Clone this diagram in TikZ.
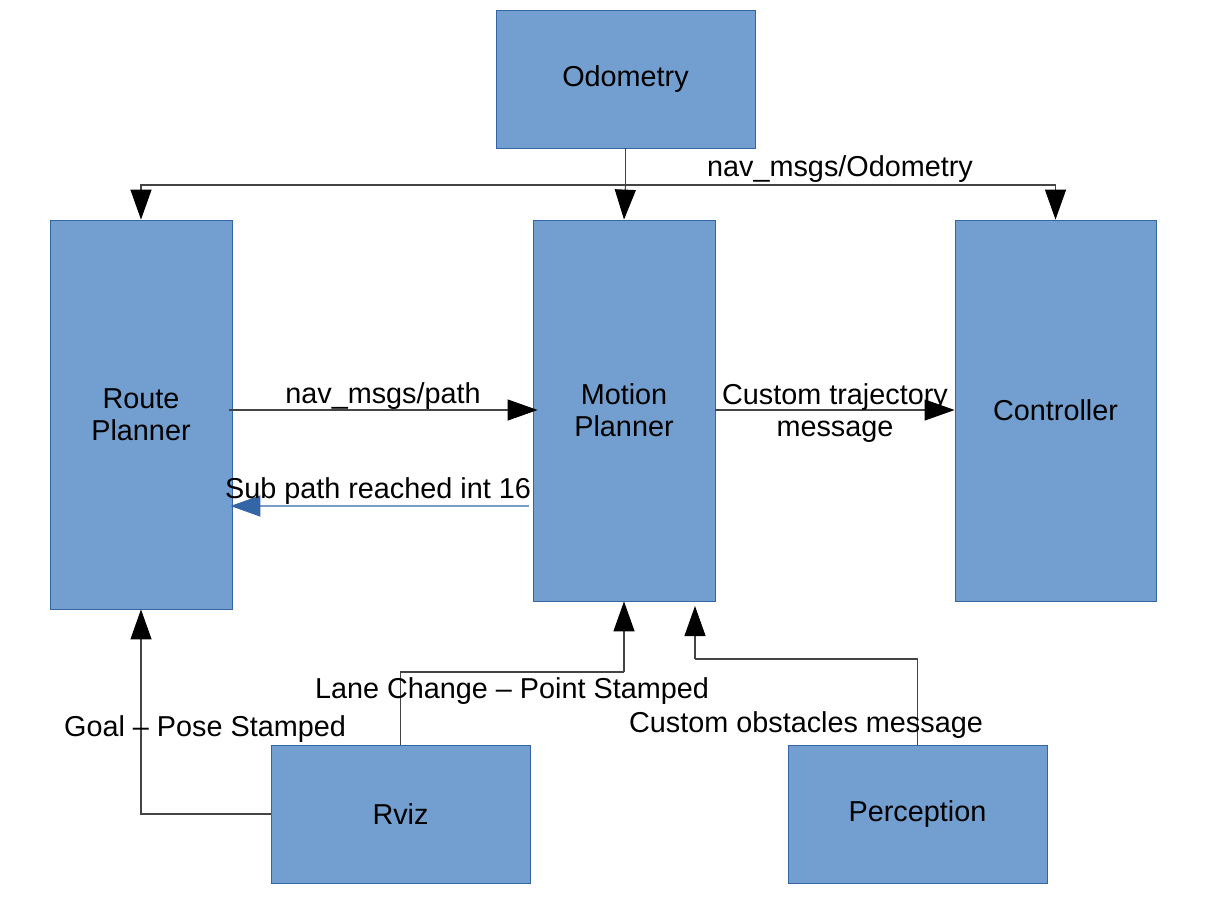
\documentclass[tikz,border=0pt]{standalone}
\usepackage{fontspec}
\setmainfont{Liberation Sans}
\usetikzlibrary{arrows.meta,calc}
\definecolor{boxfill}{HTML}{729FCF}
\definecolor{boxdraw}{HTML}{3465A4}
\definecolor{linegray}{HTML}{444444}
\definecolor{subline}{HTML}{7A9CC6}
\begin{document}
\begin{tikzpicture}[x=1pt,y=-1pt,
  box/.style={draw=boxdraw, fill=boxfill, line width=0.8pt, inner sep=0pt, align=center, font=\fontsize{28.8}{32}\selectfont, anchor=center},
  lbl/.style={inner sep=0pt, align=center, font=\fontsize{28.8}{32}\selectfont, anchor=center},
  conn/.style={draw=linegray, line width=1.2pt},
  arr/.style={conn, -{Triangle[length=30pt,width=21pt,color=black]}},
  blarr/.style={draw=subline, line width=1.5pt, -{Triangle[length=30pt,width=21pt,color=boxdraw]}}
]
\useasboundingbox (0,0) rectangle (1207,905);
% boxes
\node[box, minimum width=259pt, minimum height=138pt] (odo) at (625.5,79) {\raisebox{-2pt}{Odometry}};
\node[box, minimum width=182pt, minimum height=389pt] (rp) at (141,414.5) {Route\\Planner};
\node[box, minimum width=182pt, minimum height=381pt] (mp) at (624,410.5) {Motion\\Planner};
\node[box, minimum width=201pt, minimum height=381pt] (ctl) at (1055.5,410.5) {Controller};
\node[box, minimum width=259pt, minimum height=138pt] (rviz) at (400.5,814) {Rviz};
\node[box, minimum width=259pt, minimum height=138pt] (perc) at (917.5,814) {\raisebox{-2pt}{Perception}};
% odometry distribution
\coordinate (hb) at (625.5,185);
\draw[conn] (odo.south) -- (hb);
\draw[arr] (hb) -- (mp.north);
\draw[arr] (hb) -| (rp.north);
\draw[arr] (hb) -| (ctl.north);
\node[lbl] (lodo) at (840,169) {nav\_msgs/Odometry};
% route -> motion
\draw[arr] ($(rp.east |- 0,410)+(-3,0)$) -- ($(mp.west |- 0,410)+(5,0)$);
\node[lbl] (lpath) at (383,396) {nav\_msgs/path};
% motion -> route
\draw[blarr] ($(mp.west |- 0,506)+(-4,0)$) -- ($(rp.east |- 0,506)+(-2,0)$);
\node[lbl] (lsub) at (378,491) {Sub path reached int 16};
% motion -> controller
\draw[arr] (mp.east |- 0,410) -- (ctl.west |- 0,410);
\node[lbl] (ltraj) at (835,413) {Custom trajectory\\message};
% rviz -> route
\draw[arr] (rviz.west) -| (rp.south);
\node[lbl] (lgoal) at (205,729) {Goal -- Pose Stamped};
% rviz -> motion
\coordinate (lb) at (624,672);
\draw[conn] (rviz.north) |- (lb);
\draw[arr] (lb) -- (mp.south);
\node[lbl] (llane) at (512,691) {Lane Change -- Point Stamped};
% perception -> motion
\coordinate (pb) at (695,659);
\coordinate (pt) at (695,606);
\draw[conn] (perc.north) |- (pb);
\draw[arr] (pb) -- (pt);
\node[lbl] (lobs) at (806,725) {Custom obstacles message};
\end{tikzpicture}
\end{document}
